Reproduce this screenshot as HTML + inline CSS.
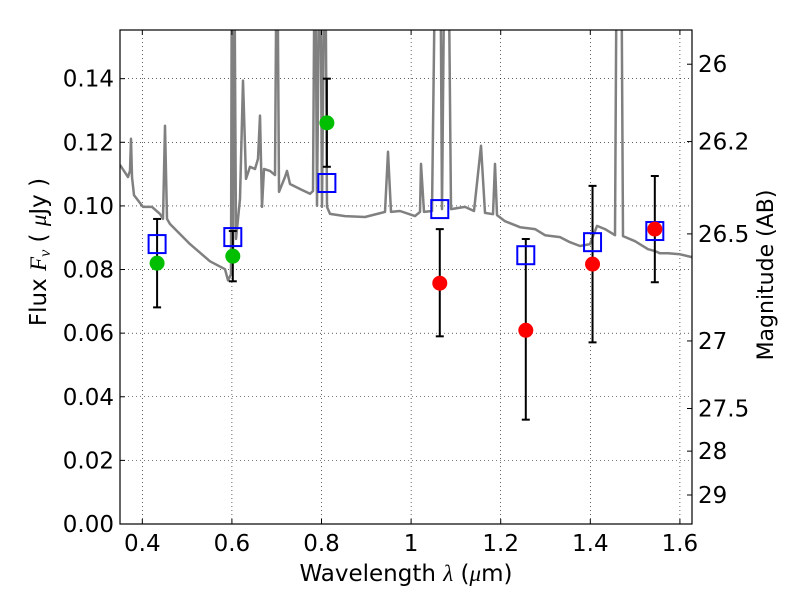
<!DOCTYPE html>
<html><head><meta charset="utf-8"><style>
body{margin:0;background:#fff;}
svg text{font-family:"DejaVu Sans","Liberation Sans",sans-serif;fill:#000;}
</style></head><body>
<svg id="chart" width="800" height="600" viewBox="0 0 800 600" xmlns="http://www.w3.org/2000/svg">
<rect width="800" height="600" fill="#fff"/>
<defs><clipPath id="clip"><rect x="120" y="30" width="572" height="494"/></clipPath></defs>
<g id="grid"></g>
<g id="series" clip-path="url(#clip)"></g>
<g id="marks"></g>
<rect x="120" y="30" width="572" height="494" fill="none" stroke="#000" stroke-width="1.2"/>
<g id="axes"></g>
<text x="406" y="581" font-size="23" text-anchor="middle">Wavelength  <tspan font-family="Liberation Serif" font-style="italic">λ</tspan> (<tspan font-family="Liberation Serif" font-style="italic">μ</tspan>m)</text>
<text transform="translate(46,252) rotate(-90)" font-size="23" text-anchor="middle">Flux  <tspan font-family="Liberation Serif" font-style="italic">F</tspan><tspan font-family="Liberation Serif" font-style="italic" font-size="16" dy="4">ν</tspan><tspan dy="-4">  (  </tspan><tspan font-family="Liberation Serif" font-style="italic">μ</tspan>Jy )</text>
<text transform="translate(773,275) rotate(-90)" font-size="22" text-anchor="middle">Magnitude (AB)</text>
</svg>
<script>
const specWl=[0.3502,0.3681,0.3725,0.3748,0.3770,0.3815,0.3949,0.4016,0.4217,0.4395,0.4462,0.4507,0.4552,0.4619,0.5065,0.5511,0.5846,0.5913,0.5980,0.6002,0.6025,0.6047,0.6092,0.6181,0.6248,0.6315,0.6404,0.6516,0.6583,0.6627,0.6672,0.6717,0.6851,0.6962,0.7007,0.7052,0.7186,0.7230,0.7297,0.7520,0.7744,0.7811,0.7855,0.7900,0.7967,0.8011,0.8078,0.8123,0.8190,0.8525,0.8971,0.9417,0.9484,0.9551,0.9752,1.0087,1.0199,1.0221,1.0288,1.0467,1.0556,1.0645,1.0690,1.0757,1.0824,1.0891,1.1203,1.1404,1.1561,1.1650,1.1829,1.1873,1.1918,1.2096,1.2431,1.2766,1.2989,1.3324,1.3547,1.3770,1.3994,1.4150,1.4328,1.4551,1.4596,1.4685,1.4730,1.4998,1.5288,1.5444,1.5556,1.5734,1.6002,1.6270];
const specFlux=[0.1129,0.1091,0.1110,0.1211,0.1091,0.1034,0.1009,0.0997,0.0997,0.0975,0.0959,0.1252,0.0959,0.0943,0.0880,0.0826,0.0801,0.0766,0.0785,0.2,0.0833,0.2,0.0896,0.1022,0.1394,0.1085,0.1123,0.1116,0.1148,0.1284,0.0997,0.1116,0.1110,0.1097,0.2,0.1044,0.1091,0.1110,0.1069,0.1053,0.1038,0.1047,0.2,0.1000,0.2,0.0997,0.2,0.0997,0.0975,0.0968,0.0965,0.0981,0.1170,0.0981,0.0984,0.0968,0.0981,0.1132,0.0981,0.0984,0.2,0.2,0.0990,0.2,0.2,0.0990,0.0997,0.0984,0.1189,0.0978,0.0974,0.1132,0.0971,0.0952,0.0933,0.0927,0.0908,0.0902,0.0886,0.0874,0.0880,0.0937,0.0927,0.0908,0.2,0.2,0.0905,0.0889,0.0864,0.0858,0.0851,0.0851,0.0848,0.0839];
const greenWl=[0.433,0.602,0.812];
const greenFlux=[0.0820,0.0842,0.1261];
const greenLo=[0.0681,0.0763,0.1123];
const greenHi=[0.0959,0.0921,0.1400];
const redWl=[1.064,1.256,1.405,1.544];
const redFlux=[0.0757,0.0609,0.0817,0.0927];
const redLo=[0.0590,0.0328,0.0571,0.0760];
const redHi=[0.0927,0.0896,0.1063,0.1094];
const modelWl=[0.433,0.602,0.812,1.064,1.256,1.405,1.544];
const modelFlux=[0.0880,0.0902,0.1072,0.0990,0.0845,0.0886,0.0921];
const xTicks=[0.4,0.6,0.8,1.0,1.2,1.4,1.6];
const xTickLabels=["0.4","0.6","0.8","1","1.2","1.4","1.6"];
const yTicks=[0,0.02,0.04,0.06,0.08,0.10,0.12,0.14];
const yTickLabels=["0.00","0.02","0.04","0.06","0.08","0.10","0.12","0.14"];
const magTicks=[26,26.2,26.5,27,27.5,28,29];
const magTickLabels=["26","26.2","26.5","27","27.5","28","29"];

const X0=120,X1=692,Y0=524,Y1=30,xmin=0.3502,xmax=1.6270,ymin=0,ymax=0.1553;
function xs(v){return X0+(v-xmin)/(xmax-xmin)*(X1-X0);}
function ys(v){return Y0-(v-ymin)/(ymax-ymin)*(Y0-Y1);}
function magToFlux(m){return Math.pow(10,(23.9-m)/2.5);}
const NS="http://www.w3.org/2000/svg";
function mk(parent,tag,attrs){const e=document.createElementNS(NS,tag);for(const k in attrs)e.setAttribute(k,attrs[k]);parent.appendChild(e);return e;}
const grid=document.getElementById('grid'),series=document.getElementById('series'),marks=document.getElementById('marks'),axes=document.getElementById('axes');

xTicks.forEach((t,i)=>{const x=xs(t);
 const g=mk(grid,'line',{x1:x,x2:x,y1:Y1,y2:Y0,stroke:'#000','stroke-width':0.6,'stroke-dasharray':'1,3'});
 
 
 mk(axes,'line',{x1:x,x2:x,y1:Y0,y2:Y0-5,stroke:'#000'});
 mk(axes,'line',{x1:x,x2:x,y1:Y1,y2:Y1+5,stroke:'#000'});
 const tx=mk(axes,'text',{x:x,y:Y0+27,'font-size':23,'text-anchor':'middle'});tx.textContent=xTickLabels[i];
 
 
});
yTicks.forEach((t,i)=>{const y=ys(t);
 const g=mk(grid,'line',{x1:X0,x2:X1,y1:y,y2:y,stroke:'#000','stroke-width':0.6,'stroke-dasharray':'1,3'});
 
 
 mk(axes,'line',{x1:X0,x2:X0+5,y1:y,y2:y,stroke:'#000'});
 const tx=mk(axes,'text',{x:X0-6,y:y+8,'font-size':23,'text-anchor':'end'});tx.textContent=yTickLabels[i];
 
 
});
magTicks.forEach((m,i)=>{const y=ys(magToFlux(m));
 mk(axes,'line',{x1:X1-5,x2:X1,y1:y,y2:y,stroke:'#000'});
 const tx=mk(axes,'text',{x:X1+6,y:y+8,'font-size':23,'text-anchor':'start'});tx.textContent=magTickLabels[i];
 
 
});

const pts=specWl.map((w,i)=>xs(w).toFixed(1)+','+ys(specFlux[i]).toFixed(1)).join(' ');
const sp=mk(series,'polyline',{points:pts,fill:'none',stroke:'#808080','stroke-width':2.5,'stroke-linejoin':'round'});



function errbar(w,lo,hi){const x=xs(w);
 const g=mk(marks,'g',{stroke:'#000','stroke-width':2});
 
 
 mk(g,'line',{x1:x,x2:x,y1:ys(lo),y2:ys(hi)});
 mk(g,'line',{x1:x-4,x2:x+4,y1:ys(lo),y2:ys(lo)});
 mk(g,'line',{x1:x-4,x2:x+4,y1:ys(hi),y2:ys(hi)});
}
greenWl.forEach((w,i)=>errbar(w,greenLo[i],greenHi[i]));
redWl.forEach((w,i)=>errbar(w,redLo[i],redHi[i]));
modelWl.forEach((w,i)=>{
 const r=mk(marks,'rect',{x:xs(w)-8.5,y:ys(modelFlux[i])-9,width:17,height:18,fill:'none',stroke:'#0000ff','stroke-width':2});
 
 
});
greenWl.forEach((w,i)=>{
 const c=mk(marks,'circle',{cx:xs(w),cy:ys(greenFlux[i]),r:7.5,fill:'#00bf00'});
 
 
});
redWl.forEach((w,i)=>{
 const c=mk(marks,'circle',{cx:xs(w),cy:ys(redFlux[i]),r:7.5,fill:'#ff0000'});
 
 
});
</script>
</body></html>
